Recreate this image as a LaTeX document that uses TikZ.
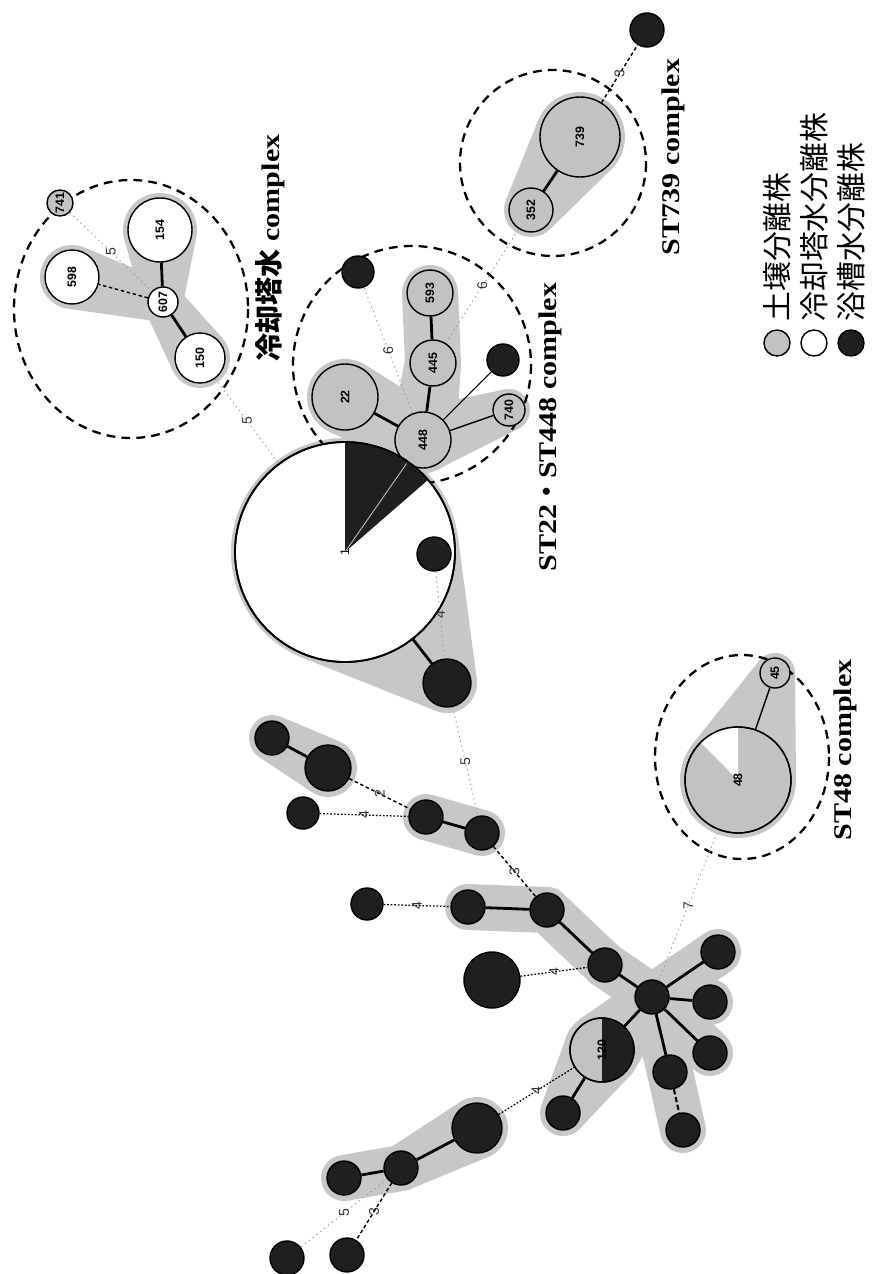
\documentclass[tikz,border=0pt]{standalone}
\usepackage{fontspec}
\setmainfont{Liberation Serif}[FakeStretch=1.18]
\newfontfamily\numf{Liberation Sans}
\newfontfamily\cjk{Noto Sans CJK JP}
\usetikzlibrary{calc}
\definecolor{halogray}{gray}{0.78}
\definecolor{soilgray}{gray}{0.76}
\definecolor{bathblack}{gray}{0.12}
\definecolor{faint}{gray}{0.6}
\newcommand\hull[6]{%
  \pgfmathsetmacro\hdx{(#4-(#1))/10}%
  \pgfmathsetmacro\hdy{(#5-(#2))/10}%
  \pgfmathsetmacro\hd{10*veclen(\hdx,\hdy)}%
  \pgfmathsetmacro\hth{atan2(\hdy,\hdx)}%
  \pgfmathsetmacro\hal{acos((#3-(#6))/\hd)}%
  \pgfmathsetmacro\hap{\hth+\hal}%
  \pgfmathsetmacro\ham{\hth-\hal}%
  \fill[halo] (#1,#2) circle[radius=#3] (#4,#5) circle[radius=#6];%
  \fill[halo] ($(#1,#2)+(\hap:#3)$) -- ($(#4,#5)+(\hap:#6)$) -- ($(#4,#5)+(\ham:#6)$) -- ($(#1,#2)+(\ham:#3)$) -- cycle;%
}
\begin{document}
\begin{tikzpicture}[x=0.02cm,y=-0.02cm,
  halo/.style={fill=halogray},
  nd/.style={circle,draw=black,line width=0.8pt,inner sep=0pt,rotate=90,font=\numf\bfseries\fontsize{7}{7}\selectfont},
  nr/.style={minimum size={2*#1*0.02cm}},
  soil/.style={nd,fill=soilgray},
  cool/.style={nd,fill=white},
  bath/.style={nd,fill=bathblack},
  e1/.style={line width=1.6pt},
  e2/.style={line width=1.2pt,dash pattern=on 3pt off 1.5pt},
  e3/.style={line width=0.8pt,dash pattern=on 2pt off 1.5pt},
  e4/.style={line width=0.7pt,dash pattern=on 1pt off 1pt},
  e5/.style={line width=0.5pt,faint,dash pattern=on 0.8pt off 2pt},
  elab/.style={rotate=90,font=\numf\fontsize{8}{8}\selectfont,inner sep=1pt,text=black!80},
  cplx/.style={draw,line width=1.3pt,dash pattern=on 5pt off 3.5pt},
  title/.style={rotate=90,font=\bfseries\fontsize{14.5}{15}\selectfont,inner sep=0pt},
  legtext/.style={rotate=90,anchor=west,inner sep=0pt,font=\cjk\fontsize{17}{17}\selectfont},
]
\useasboundingbox (0,0) rectangle (875,1274);

% ---------------- halos ----------------
\hull{163}{302}{20}{72}{277}{32}
\hull{163}{302}{20}{160}{230}{37}
\hull{163}{302}{20}{200}{358}{30}
\hull{423}{440}{33}{345}{397}{38}
\hull{423}{440}{33}{433}{363}{28}
\hull{433}{363}{28}{430}{293}{28}
\hull{423}{440}{33}{509}{410}{21}
\hull{580}{137}{45}{531}{210}{27}
\hull{345}{552}{114}{447}{683}{30}
\hull{272}{738}{23}{328}{768}{29}
\hull{426}{817}{23}{482}{833}{23}
\hull{468}{907}{23}{547}{910}{23}
\hull{547}{910}{23}{605}{965}{23}
\hull{605}{965}{23}{652}{997}{23}
\hull{652}{997}{23}{670}{1072}{23}
\hull{670}{1072}{23}{683}{1130}{23}
\hull{652}{997}{23}{602}{1050}{38}
\hull{602}{1050}{38}{563}{1113}{23}
\hull{652}{997}{23}{718}{952}{23}
\hull{652}{997}{23}{710}{1002}{23}
\hull{652}{997}{23}{710}{1053}{23}
\hull{477}{1128}{31}{401}{1168}{23}
\hull{401}{1168}{23}{344}{1178}{23}
\hull{738}{780}{58}{775}{673}{20}

% ---------------- complex outlines ----------------
\draw[cplx] (131,309) ellipse[x radius=117,y radius=129];
\draw[cplx] (412,365) circle[radius=119];
\draw[cplx] (553,163) circle[radius=93];
\draw[cplx] (742,757) ellipse[x radius=87,y radius=102];

% ---------------- nodes ----------------
% cooling tower complex
\node[soil,nr=13] (c741) at (60,203) {741};
\node[cool,nr=27] (c598) at (72,277) {598};
\node[cool,nr=32] (c154) at (160,230) {154};
\node[cool,nr=15] (c607) at (163,302) {607};
\node[cool,nr=25] (c150) at (200,358) {150};
% ST22 / ST448
\node[soil,nr=33] (s22) at (345,397) {22};
\node[soil,nr=28] (s448) at (423,440) {448};
\node[soil,nr=16] (s740) at (509,410) {740};
\node[soil,nr=23] (s445) at (433,363) {445};
\node[soil,nr=23] (s593) at (430,293) {593};
\node[bath,nr=16] (bk1) at (503,360) {};
\node[bath,nr=16] (bk2) at (358,272) {};
% ST739
\node[soil,nr=22] (s352) at (531,210) {352};
\node[soil,nr=40] (s739) at (580,137) {739};
\node[bath,nr=17] (bk3) at (647,30) {};
% ST1
\node[cool,nr=110,line width=1pt] (st1) at (345,552) {};
\fill[bathblack] (345,552) -- ++(-90:110) arc[start angle=-90,end angle=-41,radius=110] -- cycle;
\draw[white!75!black,line width=0.5pt] (345,552) -- (s448);
\draw[line width=1pt] (345,552) circle[radius=110];
\node[rotate=90,font=\numf\fontsize{7}{7}\selectfont,inner sep=0pt] (st1lab) at (345,552) {1};
\node[bath,nr=17] (bkA) at (434,554) {};
\node[bath,nr=24] (bkB) at (447,683) {};
% lower tree
\node[bath,nr=17] (n0) at (272,738) {};
\node[bath,nr=23] (n1) at (328,768) {};
\node[bath,nr=17] (n2) at (426,817) {};
\node[bath,nr=17] (n3) at (482,833) {};
\node[bath,nr=16] (n4) at (303,813) {};
\node[bath,nr=16] (n5) at (367,904) {};
\node[bath,nr=17] (n6) at (468,907) {};
\node[bath,nr=17] (n7) at (547,910) {};
\node[bath,nr=17] (nE) at (605,965) {};
\node[bath,nr=28] (n8) at (492,980) {};
\node[bath,nr=17] (nH) at (652,997) {};
\node[bath,nr=17] (n17) at (718,952) {};
\node[bath,nr=17] (n18) at (710,1002) {};
\node[bath,nr=17] (n19) at (710,1053) {};
\node[bath,nr=17] (n15) at (670,1072) {};
\node[bath,nr=17] (n16) at (683,1130) {};
\node[soil,nr=32] (n120) at (602,1050) {};
\fill[bathblack] (602,1050) ++(0,-32) arc[start angle=-90,end angle=90,radius=32] -- cycle;
\draw[line width=0.8pt] (602,1050) circle[radius=32];
\node[rotate=90,font=\numf\bfseries\fontsize{7}{7}\selectfont,inner sep=0pt] (lab120) at (602,1050) {120};
\node[bath,nr=17] (n9) at (563,1113) {};
\node[bath,nr=25] (n10) at (477,1128) {};
\node[bath,nr=17] (n11) at (401,1168) {};
\node[bath,nr=17] (n12) at (344,1178) {};
\node[bath,nr=17] (n13) at (347,1255) {};
\node[bath,nr=17] (n14) at (287,1258) {};
% ST48
\node[soil,nr=53] (s48) at (738,780) {};
\fill[white] (738,780) -- ++(-90:53) arc[start angle=-90,end angle=-135,radius=53] -- cycle;
\draw[line width=0.8pt] (738,780) circle[radius=53];
\node[rotate=90,font=\numf\bfseries\fontsize{7}{7}\selectfont,inner sep=0pt] (lab48) at (738,780) {48};
\node[soil,nr=15] (s45) at (775,673) {45};

% ---------------- connectors ----------------
\draw[e1] (c607) -- (c154);
\draw[e1] (c607) -- (c150);
\draw[e3] (c607) -- (c598);
\draw[e5] (c741) -- node[elab]{5} (c607);
\draw[e5] (c150) -- node[elab]{5} (st1);
\draw[e1] (s448) -- (s22);
\draw[e1] (s448) -- (s445);
\draw[e1] (s445) -- (s593);
\draw[line width=0.8pt] (s448) -- (s740);
\draw[line width=0.6pt] (s448) -- (bk1);
\draw[e5] (s448) -- node[elab]{6} (bk2);
\draw[e5] (s445) -- node[elab]{6} (s352);
\draw[e1] (s739) -- (s352);
\draw[e3] (s739) -- node[elab]{3} (bk3);
\draw[e1] (st1) -- (bkB);
\draw[e5] (bkA) -- node[elab]{4} (bkB);
\draw[e5] (bkB) -- node[elab]{5} (n3);
\draw[e1] (n0) -- (n1);
\draw[e3] (n1) -- node[elab]{2} (n2);
\draw[e4] (n4) -- node[elab]{4} (n2);
\draw[e1] (n2) -- (n3);
\draw[e3] (n3) -- node[elab]{3} (n7);
\draw[e4] (n5) -- node[elab]{4} (n6);
\draw[e1] (n6) -- (n7);
\draw[e1] (n7) -- (nE);
\draw[e4] (n8) -- node[elab]{4} (nE);
\draw[e1] (nE) -- (nH);
\draw[e1] (nH) -- (n17);
\draw[e1] (nH) -- (n18);
\draw[e1] (nH) -- (n19);
\draw[e1] (nH) -- (n15);
\draw[e2] (n15) -- (n16);
\draw[e1] (nH) -- (n120);
\draw[e5] (nH) -- node[elab]{7} (s48);
\draw[e1] (n120) -- (n9);
\draw[e4] (n10) -- node[elab]{4} (n120);
\draw[e1] (n10) -- (n11);
\draw[e1] (n11) -- (n12);
\draw[e3] (n11) -- node[elab]{3} (n13);
\draw[e5] (n11) -- node[elab]{5} (n14);
\draw[line width=0.8pt] (s48) -- (s45);

% ---------------- titles ----------------
\node[title] (t1) at (270,248) {{\cjk\fontsize{16}{16}\selectfont 冷却塔水} complex};
\node[title] (t2) at (550,427) {ST22{\cjk ・}ST448 complex};
\node[title] (t3) at (673,157) {ST739 complex};
\node[title] (t4) at (845,750) {ST48 complex};

% ---------------- legend ----------------
\node[circle,draw,line width=0.8pt,fill=soilgray,minimum size=26*0.02cm,inner sep=0pt] (lg1) at (777,343) {};
\node[circle,draw,line width=0.8pt,fill=white,minimum size=26*0.02cm,inner sep=0pt] (lg2) at (814,343) {};
\node[circle,draw,line width=0.8pt,fill=bathblack,minimum size=26*0.02cm,inner sep=0pt] (lg3) at (851,343) {};
\node[legtext] (lt1) at (777,322) {土壌分離株};
\node[legtext] (lt2) at (814,322) {冷却塔水分離株};
\node[legtext] (lt3) at (851,322) {浴槽水分離株};
\end{tikzpicture}
\end{document}
